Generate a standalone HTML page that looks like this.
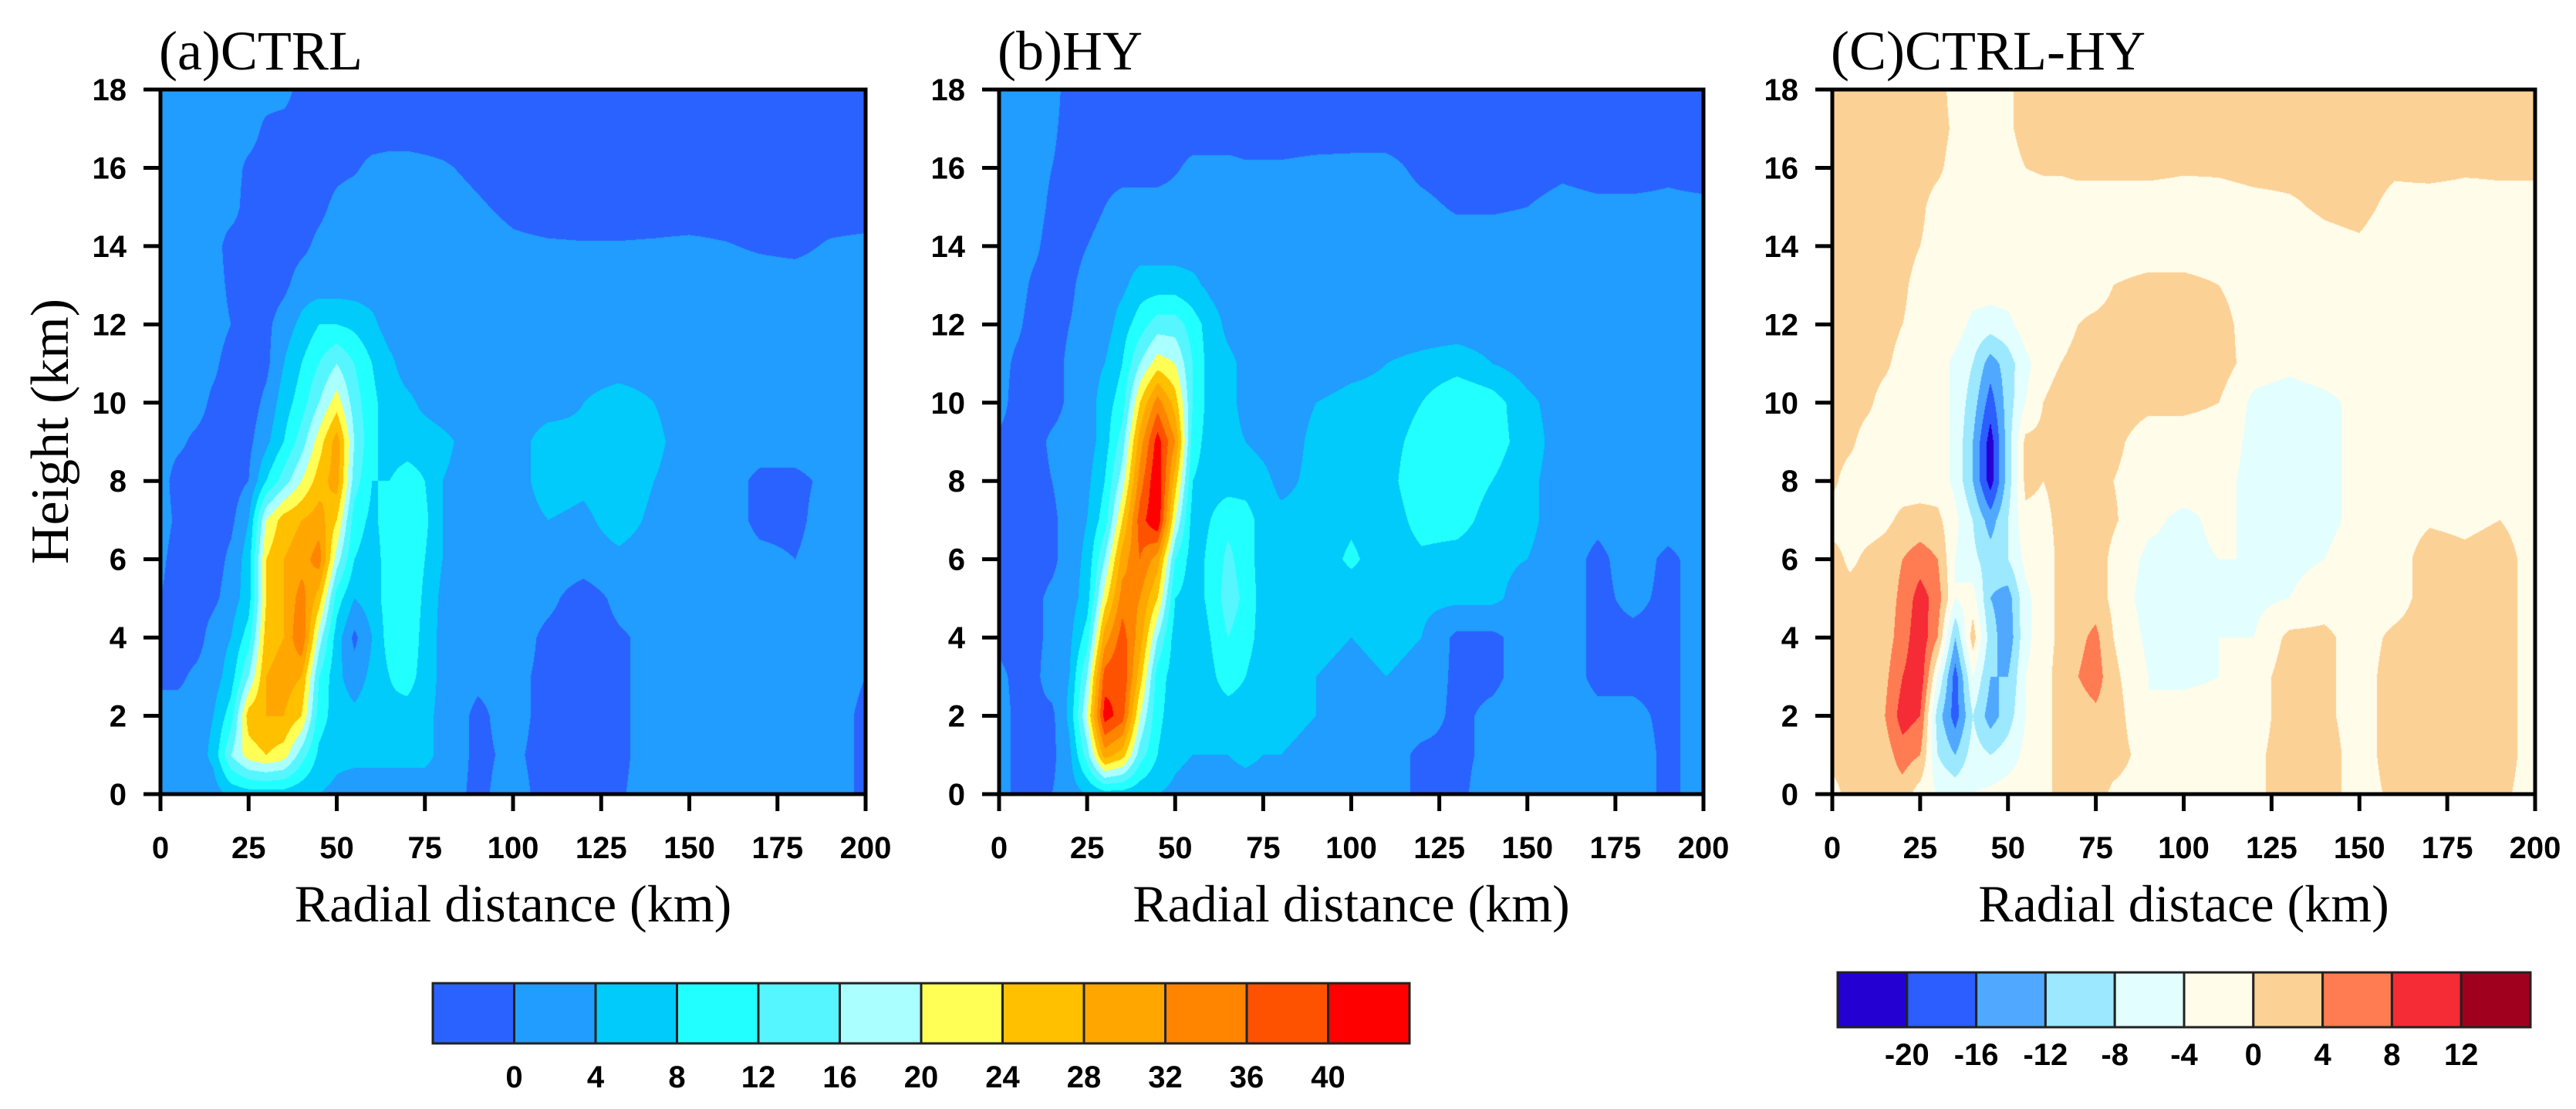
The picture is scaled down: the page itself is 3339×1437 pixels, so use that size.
<!DOCTYPE html>
<html><head><meta charset="utf-8"><style>
html,body{margin:0;padding:0;background:#fff;}
body{width:3339px;height:1437px;position:relative;overflow:hidden;}
canvas{position:absolute;}
svg{position:absolute;left:0;top:0;}
</style></head>
<body>
<canvas id="cvA"></canvas>
<canvas id="cvB"></canvas>
<canvas id="cvC"></canvas>
<svg id="ov" width="3339" height="1437"></svg>
<script>
// ---- data (rows listed from height 18 km down to 0 km) ----
const radialKm = [0,5,10,15,20,25,30,35,40,45,50,55,60,65,70,75,80,90,100,110,120,130,140,150,160,170,180,190,200];
const heightKm = [18,17,16,15,14,13,12,11,10,9,8,7,6,5,4,3,2,1,0];
const xTicks = [0,25,50,75,100,125,150,175,200];
const yTicks = [0,2,4,6,8,10,12,14,16,18];
const ctrlLevels = [0,4,8,12,16,20,24,28,32,36,40];
const diffLevels = [-20,-16,-12,-8,-4,0,4,8,12];
const ctrlColors = ["#2a62ff","#219cff","#00cbfb","#22ffff","#55f6ff","#aaffff","#ffff55","#ffc000","#ffa600","#ff8400","#ff5200","#ff0000"];
const diffColors = ["#2400d2","#2b5dff","#50a8ff","#9ce8ff","#e2feff","#fffce9","#fcd196","#ff7b52","#f52b36","#a0001e"];

const ctrlRows = [
[2,2,2,2,2,2,2,2,-2,-2,-2,-2,-2,-2,-2,-2,-2,-2,-2,-2,-2,-2,-2,-2,-2,-2,-2,-2,-2],
[2,2,2,2,2,2,-1,-2,-2,-2,-2,-2,-2,-2,-2,-2,-2,-2,-2,-2,-2,-2,-2,-2,-2,-2,-2,-2,-2],
[2,2,2,2,2,-1,-2,-2,-2,-2,-1,-0.5,1,1.5,1.5,1,0.5,-1,-2,-2,-2,-2,-2,-2,-2,-2,-2,-2,-2],
[2,2,2,2,2,-2,-2,-2,-2,-1,1,2,2,2,2,2,2,0.5,-1,-2,-2,-2,-2,-2,-2,-2,-2,-2,-2],
[2,2,2,2,-2,-2,-2,-2,-1,1,2,2,2,2,2,2,2,2,0.8,0.5,0.3,0.3,0.5,0.8,0.3,-0.5,-1,0.5,1],
[2,2,2,2,-1,-2,-2,-1,2,2,2,2,2,2,2,2,2,2,2,2,2,2,2,2,2,2,2,2,2],
[2,2,2,2,0,-2,-1,2,5,8,8,7,5,2,2,2,2,2,2,2,2,2,2,2,2,2,2,2,2],
[2,2,2,1,-2,-2,-1,4,8,12,16,12,8,5,2,2,2,2,2,2,2,2,2,2,2,2,2,2,2],
[2,2,2,-1,-2,-2,1,6,10,16,22,14,9,6,5,3,2,2,2,2,4,6,4,2,2,2,2,2,2],
[2,1,-1,-2,-2,-1,3,8,14,22,30,16,9,6,6,6,5,2,2,6,5,7,5,2,2,2,2,2,2],
[2,-2,-2,-2,-2,0,8,14,20,26,30,14,8,8,10,8,4,2,2,6,5,7,4,2,2,-1,-1,1,2],
[2,-1,-2,-2,-1,4,20,26,28,30,24,10,7,10,12,9,4,2,2,4,3,6,3,2,2,-1,-1,2,2],
[1,-2,-2,-2,1,6,24,28,30,34,18,8,6,10,12,8,4,2,2,2,2,3,2,2,2,1,0,2,2],
[0,-2,-2,-1,2,6,24,28,34,26,10,4,6,10,12,7,3,2,2,1,-2,1,2,2,2,2,2,2,2],
[-2,-2,-2,2,4,10,26,28,36,18,6,-1,4,10,12,6,3,2,2,-1,-2,-0.5,1,2,2,2,2,2,2],
[-1,-1,1,2,6,16,28,30,28,12,5,2,5,8,10,6,3,1,1,-1,-2,-1,2,2,2,2,2,2,0],
[2,2,2,4,10,26,28,28,24,10,6,5,6,7,6,5,3,-1,2,-2,-2,-1,2,2,2,2,2,2,-1],
[2,2,2,5,16,22,24,22,14,7,5,5,5,5,5,5,3,-1,1,-2,-2,-1,2,2,2,2,2,2,-1],
[2,2,2,2,5,6,6,6,5,4,3,2,2,2,2,2,2,-1,2,-2,-2,-0.5,2,2,2,2,2,2,-1]
];
const hyRows = [
[2,2,2,2,-2,-2,-1,-2,-2,-2,-2,-2,-2,-2,-2,-2,-2,-2,-2,-2,-2,-2,-2,-2,-2,-2,-2,-2,-2],
[2,2,2,1,-2,-2,-2,-2,-2,-2,-2,-2,-2,-2,-2,-2,-2,-2,-2,-2,-2,-2,-2,-2,-2,-2,-2,-2,-2],
[2,2,2,0,-2,-2,-2,-2,-2,-2,-0.5,1,1,1,0.5,0.5,0.5,1,1.2,1.2,-1,-2,-2,-2,-1,-2,-2,-1,-2],
[2,2,2,-1,-2,-2,0,2,2,2,2,2,2,2,2,2,2,2,2,2,1,-0.5,-0.5,0,1.5,1,1,1,1],
[2,2,1,-2,-2,0,2,2,2,2,2,2,2,2,2,2,2,2,2,2,2,2,2,2,2,2,2,2,2],
[2,2,-1,-2,-1,2,2,3,6,6,6,5,3,2,2,2,2,2,2,2,2,2,2,2,2,2,2,2,2],
[2,1,-2,-2,0,2,2,6,10,14,14,10,6,3,2,2,2,2,2,2,2,2,2,2,2,2,2,2,2],
[2,-1,-2,-2,1,2,4,8,16,22,20,12,6,5,3,2,2,2,3,4,5,6,4,2,2,2,2,2,2],
[2,-2,-2,-2,1,2,6,10,24,34,26,12,6,5,3,2,2,4,5,5,8,12,10,5,2,2,2,2,2],
[-1,-2,-2,1,2,2,6,14,30,42,32,10,6,5,4,3,2,5,5,6,10,12,10,6,2,2,2,2,2],
[-1,-2,-2,0,2,3,8,18,34,44,26,8,6,6,6,5,3,5,5,6,12,11,8,5,2,2,2,2,2],
[-1,-2,-2,-1,2,4,10,24,38,44,20,6,8,11,10,6,5,5,7,5,10,10,6,5,2,1,2,2,2],
[-1,-2,-2,-1,2,5,16,30,36,30,12,6,9,13,10,6,5,5,9,5,7,6,5,4,2,-1,2,-1,2],
[-1,-2,-1,1,2,6,22,34,32,24,8,6,9,14,11,6,5,5,5,6,5,5,5,2,2,-1,1,-1,2],
[-1,-2,-1,1,3,10,30,38,30,16,6,5,8,12,10,6,5,5,4,5,4,-1,-1,2,2,-1,-1,-1,2],
[1,-1,-1,2,4,16,38,40,26,10,6,5,7,10,8,5,5,4,3,4,3,-1,-1,2,2,-1,-1,-1,2],
[2,-1,-1,-1,5,20,42,38,20,9,6,5,6,6,6,5,5,4,2,2,2,-1,1,2,2,1,1,-1,2],
[2,-1,-1,-1,3,14,30,26,14,8,5,4,4,4,5,4,4,3,2,2,-1,-1,1,2,2,2,2,-1,2],
[2,-1,-1,0,2,4,6,6,5,4,3,2,2,2,2,2,2,2,2,2,-1,-1,2,2,2,2,2,-1,2]
];
const diffRows = [
[2,2,2,2,2,2,2,-2,-2,-2,-1,2,2,2,2,2,2,2,0,2,2,2,2,2,2,2,2,2,2],
[2,2,2,2,2,2,2,-1,-2,-2,-1,2,2,2,2,2,2,2,0,2,2,2,2,2,2,2,2,2,2],
[2,2,2,2,2,2,1,-2,-2,-2,-2,0,0.5,0.5,1,1,1,1,0.5,0.5,1,1,1,1.5,0.5,1,0.5,0.5,0.5],
[2,2,2,2,2,1,-2,-2,-2,-2,-2,-2,-2,-2,-2,-2,-2,-2,-2,-1.5,-1,-0.5,0.5,1,-1,-1.5,-1.5,-1,-1],
[2,2,2,2,2,0,-2,-2,-2,-2,-2,-2,-2,-2,-2,-2,-2,-2,-2,-2,-2,-2,-1,-0.5,-2,-2,-2,-2,-2],
[2,2,2,2,1,-2,-2,-2,-2,-2,-2,-2,-2,-2,-2,-2,0,1,1,0,-2,-2,-2,-2,-2,-2,-2,-2,-2],
[2,2,2,2,0,-2,-2,-2,-5,-6,-5,-2,-2,-2,0,1,1.5,2,2,1.5,-2,-2,-2,-2,-2,-2,-2,-2,-2],
[2,2,2,1,-2,-2,-2,-5,-8,-14,-10,-5,-2,0,1.5,2,2,2,2,2,-2,-3,-2,-2,-2,-2,-2,-2,-2],
[2,2,1,-2,-2,-2,-2,-5,-10,-18,-10,-4,0,2,2,2,2,1,1,0,-5,-6,-5,-3,-2,-2,-2,-2,-2],
[2,1,-2,-2,-2,-2,-2,-5,-12,-22,-10,1,1,2,2,2,1,-2,-2,-2,-5,-6,-5,-3,-2,-2,-2,-2,-2],
[1,-2,-2,-2,-2,-2,-2,-5,-12,-22,-10,1,0,1,2,2,0,-2,-2,-3,-5,-6,-5,-3,-2,-2,-2,-2,-2],
[-2,-2,-2,-1,1,1.5,1,-3,-8,-14,-8,-1,-1,1,2,2,0.5,-3,-5,-3,-5,-5,-5,-3,-2,-0.5,-1,0,-2],
[2,-1,1,2,4,6,4,-4,-7,-10,-8,-3,-2,1,2,2,-1,-5,-5,-4,-4,-5,-4,-2,-2,2,1,2,-2],
[2,2,2,2,5,10,6,-4,-2,-12,-14,-5,-2,1,2,2,-1,-6,-5,-4,-5,-4,-2,-2,-2,2,2,2,-2],
[2,2,2,2,6,11,4,-12,2,-10,-15,-5,-2,1,3,5,0,-5,-5,-4,-4,1,1,-2,1,2,2,2,-2],
[2,2,2,3,8,11,-4,-18,-4,-12,-12,-4,-2,2,4,6,1,-4,-5,-4,-2,2,1,-2,2,2,2,2,-2],
[2,2,2,4,10,8,-10,-18,-8,-14,-10,-4,-2,2,2,3,2,-4,-2,-2,-2,2,1,-2,2,2,2,2,-2],
[2,2,2,2,6,4,-8,-12,-6,-8,-6,-3,-2,2,2,2,2,-2,-2,-2,-1,2,2,-2,2,2,2,2,-2],
[-2,2,2,2,2,-2,-4,-5,-4,-3,-2,-2,-2,2,2,2,-1,-2,-2,-2,-1,2,2,-2,1,2,2,1,-2]
];

// ---- layout ----
const plotTop = 116, plotBot = 1029;
const panels = [
  {id:'cvA', key:'ctrl', left:208, right:1122, rows:ctrlRows, levels:ctrlLevels, colors:ctrlColors, title:'(a)CTRL', xtitle:'Radial distance (km)'},
  {id:'cvB', key:'hy', left:1295, right:2208, rows:hyRows, levels:ctrlLevels, colors:ctrlColors, title:'(b)HY', xtitle:'Radial distance (km)'},
  {id:'cvC', key:'diff', left:2375, right:3286, rows:diffRows, levels:diffLevels, colors:diffColors, title:'(C)CTRL-HY', xtitle:'Radial distace (km)'}
];
function hexRGB(h){return [parseInt(h.substr(1,2),16),parseInt(h.substr(3,2),16),parseInt(h.substr(5,2),16)];}
function levelIndex(v, levels){let i=0; while(i<levels.length && v>=levels[i]) i++; return i;}
function findSeg(arr, v, desc){
  for(let i=0;i<arr.length-1;i++){
    const a=arr[i], b=arr[i+1];
    if(desc ? (v<=a && v>=b) : (v>=a && v<=b)) return [i,(v-a)/(b-a)];
  }
  return [arr.length-2,1];
}
panels.forEach(p=>{
  const W=p.right-p.left, H=plotBot-plotTop;
  const cv=document.getElementById(p.id);
  cv.width=W; cv.height=H;
  cv.style.left=p.left+'px'; cv.style.top=plotTop+'px';
  const ctx=cv.getContext('2d');
  const img=ctx.createImageData(W,H);
  const rgb=p.colors.map(hexRGB);
  const xs=[]; for(let px=0;px<W;px++) xs.push(findSeg(radialKm,(px+0.5)/W*200,false));
  for(let py=0;py<H;py++){
    const h=18-(py+0.5)/H*18;
    const [j,ty]=findSeg(heightKm,h,true);
    const r0=p.rows[j], r1=p.rows[j+1];
    for(let px=0;px<W;px++){
      const [i,tx]=xs[px];
      const v=(r0[i]*(1-tx)+r0[i+1]*tx)*(1-ty)+(r1[i]*(1-tx)+r1[i+1]*tx)*ty;
      const c=rgb[levelIndex(v,p.levels)];
      const k=(py*W+px)*4;
      img.data[k]=c[0];img.data[k+1]=c[1];img.data[k+2]=c[2];img.data[k+3]=255;
    }
  }
  ctx.putImageData(img,0,0);
});

// ---- axes / labels ----
const NS='http://www.w3.org/2000/svg';
const svg=document.getElementById('ov');
function mk(tag, attrs, parent, txt){
  const e=document.createElementNS(NS,tag);
  for(const k in attrs) e.setAttribute(k,attrs[k]);
  if(txt!==undefined) e.textContent=txt;
  (parent||svg).appendChild(e); return e;
}
const tickFont='"Liberation Sans", sans-serif';
const serif='"Liberation Serif", serif';
panels.forEach(p=>{
  const g=mk('g',{});
  
  
  const xScale=v=>p.left+(v/200)*(p.right-p.left);
  const yScale=v=>plotBot-(v/18)*(plotBot-plotTop);
  const frame=mk('rect',{x:p.left,y:plotTop,width:p.right-p.left,height:plotBot-plotTop,fill:'none',stroke:'#000','stroke-width':5},g);
  
  
  xTicks.forEach(t=>{
    const x=xScale(t);
    const tk=mk('line',{x1:x,y1:plotBot,x2:x,y2:plotBot+22,stroke:'#000','stroke-width':5},g);
    
    
    const lb=mk('text',{x:x,y:1112,'text-anchor':'middle','font-family':tickFont,'font-weight':'bold','font-size':40},g,String(t));
    
    
  });
  yTicks.forEach(t=>{
    const y=yScale(t);
    const tk=mk('line',{x1:p.left-22,y1:y,x2:p.left,y2:y,stroke:'#000','stroke-width':5},g);
    
    
    const lb=mk('text',{x:p.left-44,y:y+14,'text-anchor':'end','font-family':tickFont,'font-weight':'bold','font-size':40},g,String(t));
    
    
  });
  const ttl=mk('text',{x:p.left-2,y:90,'font-family':serif,'font-size':72},g,p.title);
  
  
  const xt=mk('text',{x:(p.left+p.right)/2,y:1194,'text-anchor':'middle','font-family':serif,'font-size':68},g,p.xtitle);
  
  
});
const yt=mk('text',{x:0,y:0,'text-anchor':'middle','font-family':serif,'font-size':70,transform:'translate(88,559) rotate(-90)'},svg,'Height (km)');



function colorbar(name, x0, x1, y0, y1, colors, labels, labelY){
  const g=mk('g',{});
  
  
  const w=(x1-x0)/colors.length;
  colors.forEach((c,i)=>{
    const r=mk('rect',{x:x0+i*w,y:y0,width:w,height:y1-y0,fill:c,stroke:'#222','stroke-width':3},g);
    
    
  });
  labels.forEach((l,i)=>{
    const t=mk('text',{x:x0+(i+1)*w,y:labelY,'text-anchor':'middle','font-family':tickFont,'font-weight':'bold','font-size':40},g,String(l));
    
    
  });
}
colorbar('ctrl-hy-colorbar',561,1827,1274,1352,ctrlColors,ctrlLevels,1409);
colorbar('difference-colorbar',2382,3280,1260,1331,diffColors,diffLevels,1380);
</script>
</body></html>
